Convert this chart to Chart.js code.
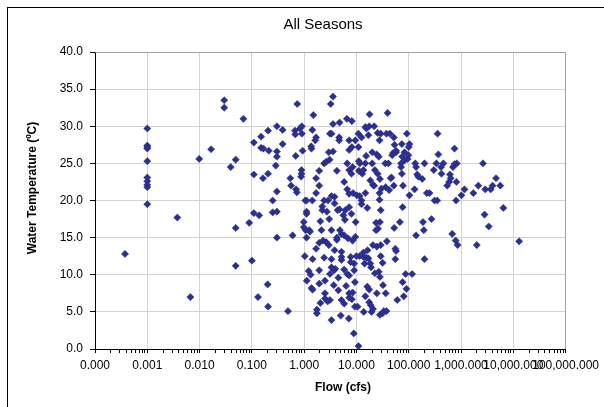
<!DOCTYPE html>
<html><head><meta charset="utf-8">
<script src="https://cdn.jsdelivr.net/npm/chart.js@4.4.1/dist/chart.umd.min.js"></script>
<style>
html,body{margin:0;padding:0;background:#fff;overflow:hidden;width:604px;height:407px}
#frame{position:absolute;left:7px;top:7px;width:700px;height:500px;border:1px solid #000;box-sizing:border-box}
#wrap{position:absolute;left:0;top:0;width:604px;height:407px}
</style></head><body>
<div id="frame"></div>
<div id="wrap"><canvas id="c" width="604" height="407"></canvas></div>
<script>
const chartTitle = 'All Seasons';
const xTitle = 'Flow (cfs)';
const yTitle = 'Water Temperature (ºC)';

const xTickValues = [0.0001, 0.001, 0.01, 0.1, 1, 10, 100, 1000, 10000, 100000];
const xTickLabels = ['0.000','0.001','0.010','0.100','1.000','10.000','100.000','1,000.000','10,000.000','100,000.000'];
const yTickValues = [0, 5, 10, 15, 20, 25, 30, 35, 40];

// Flow < 1 cfs
const lowFlow = [
 0.000375,0.001,0.001,0.001,0.001,0.001,0.001,0.001,0.001,0.001,
 0.001,0.00375,0.00667,0.00984,0.0166,0.0296,0.0296,0.0394,0.0491,0.0689,
 0.0491,0.0491,0.0889,0.1,0.109,0.109,0.109,0.138,0.131,0.150,
 0.150,0.166,0.163,0.204,0.204,0.211,0.200,0.204,0.250,0.250,
 0.301,0.301,0.301,0.286,0.301,0.301,0.301,0.388,0.388,0.491,
 0.543,0.562,0.601,0.666,0.677,0.689,0.701,0.725,0.737,0.830,
 0.903,0.903,0.888,0.888,0.873,0.934,0.983,0.983];
const lowTemp = [
 12.8,29.7,27.4,27.2,27.0,25.3,23.1,22.6,22.1,21.8,
 19.5,17.7,7.0,25.6,26.9,33.5,32.5,24.5,25.5,31.0,
 16.3,11.2,17.0,11.9,27.8,23.5,18.3,18.0,7.0,28.6,
 27.1,27.0,23.0,29.4,23.6,26.7,8.7,5.7,20.0,18.4,
 30.0,26.6,25.9,24.7,21.2,18.5,15.0,29.5,27.6,5.1,
 23.0,22.0,15.3,29.4,28.9,26.0,21.5,21.1,33.0,29.7,
 30.0,29.0,24.1,23.6,23.2,26.7,17.1,16.4];

// Flow 1 - 100 cfs
const midFlow = [
 1.03,1.05,1.11,1.11,1.11,1.07,1.11,1.12,1.25,1.29,
 1.22,1.33,1.43,1.38,1.36,1.43,1.50,1.45,1.38,1.45,
 1.63,1.69,1.69,1.69,1.69,1.75,1.75,1.94,1.94,2.04,
 2.14,1.94,1.94,1.94,2.04,2.22,2.22,2.29,2.41,2.41,
 2.41,2.50,2.50,2.50,2.63,2.63,2.72,2.86,2.81,2.96,
 3.06,3.01,2.96,3.11,3.11,3.11,3.33,3.22,3.56,3.56,
 3.56,3.33,3.33,3.33,3.33,3.33,3.81,3.81,3.81,3.68,
 3.68,3.94,4.22,4.22,4.22,4.36,4.51,4.51,4.75,4.67,
 4.67,4.75,4.83,5.00,5.17,5.17,5.17,5.17,5.17,5.62,
 5.82,5.82,5.82,5.82,6.02,6.12,6.33,6.55,6.66,6.66,
 6.66,6.89,7.13,7.25,7.25,7.25,7.25,7.25,7.25,7.25,
 7.25,7.76,7.76,8.02,8.02,8.16,8.16,8.16,8.44,8.44,
 8.44,8.59,8.89,9.04,9.04,9.35,9.35,9.51,9.51,9.67,
 10.0,10.2,10.5,10.9,10.9,10.9,11.1,11.1,11.5,11.5,
 11.6,12.5,12.5,12.5,12.9,13.6,13.6,13.6,13.8,14.3,
 14.8,14.8,14.8,14.8,15.3,15.5,15.5,16.1,16.1,16.3,
 16.9,16.9,17.5,17.5,17.5,17.8,18.4,18.4,18.7,19.0,
 19.4,20.0,20.0,20.7,20.7,20.7,21.8,21.8,22.5,22.5,
 23.7,23.7,24.5,24.5,24.5,25.4,25.4,25.8,26.7,26.7,
 27.6,27.6,27.6,28.1,28.1,28.1,28.1,29.1,29.1,29.1,
 29.1,30.1,31.6,31.6,32.2,33.3,35.6,36.2,36.2,37.5,
 37.5,38.1,39.4,40.8,42.2,43.6,45.1,46.7,48.3,50.0,
 51.7,53.5,51.7,52.6,55.3,57.2,55.3,57.2,57.2,60.2,
 67.7,71.3,71.3,73.8,73.8,75.0,76.3,76.3,77.6,80.2,
 83.0,83.0,87.3,90.3,91.9,95.0,98.3];
const midTemp = [
 12.5,20.0,20.0,18.5,18.2,16.0,15.0,9.2,16.0,15.8,
 10.5,10.0,20.0,27.0,27.3,29.5,31.5,12.1,8.2,8.0,
 28.1,28.5,23.0,21.0,13.5,5.3,4.8,24.0,22.0,17.2,
 16.0,14.3,10.6,8.8,6.2,19.2,18.7,14.6,20.0,25.0,
 12.3,9.2,7.5,6.8,25.2,14.4,18.5,20.0,6.4,26.5,
 25.5,17.5,14.0,10.1,6.6,29.0,29.0,33.0,34.0,30.3,
 26.6,20.6,16.0,12.1,11.0,3.9,20.5,19.6,13.3,10.6,
 8.6,10.8,24.0,14.7,15.0,18.7,7.9,9.6,30.5,28.5,
 28.1,18.8,16.0,4.5,15.5,13.1,12.4,12.0,6.6,18.0,
 22.5,15.3,10.7,6.1,17.4,18.7,8.5,31.0,25.0,21.5,
 10.1,14.9,4.1,28.1,26.8,24.1,20.9,19.1,9.9,7.5,
 6.9,11.7,12.4,18.2,23.6,30.7,27.2,6.7,7.6,14.6,
 24.5,21.0,2.1,11.5,10.6,9.0,5.7,15.1,28.1,17.1,
 12.5,20.7,5.7,0.4,29.0,27.2,25.3,24.0,20.6,12.5,
 25.0,28.5,20.0,19.5,23.6,24.1,13.0,12.4,5.0,11.5,
 29.9,25.0,21.0,7.1,26.0,29.7,12.3,19.0,8.4,13.3,
 28.8,12.2,8.0,6.3,30.0,31.6,22.7,11.5,5.9,11.0,
 5.0,25.0,26.5,22.1,14.0,5.4,30.0,22.0,10.2,24.1,
 17.0,16.0,26.2,13.8,7.5,29.1,23.6,16.2,25.9,10.4,
 21.0,20.1,28.1,22.9,17.1,9.7,4.6,29.0,14.0,12.5,
 18.7,21.6,11.6,4.8,8.6,5.1,25.0,21.8,7.5,5.1,
 29.0,14.5,31.8,25.0,21.4,29.0,23.0,23.1,26.1,26.4,
 28.5,27.5,22.0,16.3,13.5,13.2,12.1,26.5,26.7,6.6,
 17.1,24.5,25.0,23.6,27.6,25.9,19.1,9.0,22.0,7.1,
 25.4,26.5,10.1,8.1,29.0,25.6,26.1];

// Flow >= 100 cfs
const highFlow = [
 100,103,103,116,129,133,138,138,145,153,
 181,187,194,200,200,222,250,272,301,311,
 350,338,356,368,415,422,459,543,592,612,
 633,678,701,750,750,789,802,816,830,859,
 1017,1164,1718,2000,2140,2624,2811,2906,3384,3681,
 4006,4667,5623,6442,12900];
const highTemp = [
 27.2,27.6,20.7,10.1,21.5,25.0,24.5,15.3,23.5,23.2,
 22.9,17.1,16.0,25.0,12.1,21.0,21.0,17.5,24.1,20.0,
 20.0,25.0,29.0,26.2,24.5,23.6,25.0,22.0,22.5,23.5,
 23.0,15.5,24.5,27.0,24.9,14.6,20.0,22.5,25.0,14.0,
 20.7,21.5,21.0,14.0,22.0,25.0,18.1,21.5,16.5,21.5,
 22.0,23.0,22.0,19.0,14.5];

const flows = lowFlow.concat(midFlow, highFlow);
const temps = lowTemp.concat(midTemp, highTemp);
const points = flows.map((f, i) => ({x: f, y: temps[i]}));

const FONT = '"Liberation Sans", Arial, Helvetica, sans-serif';
Chart.defaults.font.family = FONT;
Chart.defaults.font.size = 12;
Chart.defaults.color = '#000';

const decorPlugin = {
  id: 'decor',
  beforeDatasetsDraw(chart) {
    const {ctx, chartArea: a} = chart;
    ctx.save();
    ctx.strokeStyle = '#a0a0a0';
    ctx.lineWidth = 1;
    ctx.beginPath();
    ctx.moveTo(Math.round(a.left) + 0.5, Math.round(a.top) + 0.5);
    ctx.lineTo(Math.round(a.right) - 0.5, Math.round(a.top) + 0.5);
    ctx.lineTo(Math.round(a.right) - 0.5, Math.round(a.bottom));
    ctx.stroke();
    ctx.restore();
  },
  afterDraw(chart) {
    const {ctx} = chart;
    ctx.save();
    ctx.fillStyle = '#000';
    ctx.textAlign = 'center';
    ctx.textBaseline = 'alphabetic';
    ctx.font = '15px ' + FONT;
    ctx.fillText(chartTitle, 323, 29);
    ctx.font = 'bold 12px ' + FONT;
    ctx.fillText(xTitle, 343, 391);
    ctx.translate(36, 188);
    ctx.rotate(-Math.PI / 2);
    ctx.fillText(yTitle, 0, 0);
    ctx.restore();
  }
};

new Chart(document.getElementById('c'), {
  type: 'scatter',
  data: {
    datasets: [{
      label: 'All Seasons',
      data: points,
      pointStyle: 'rectRot',
      pointRadius: 3.6,
      pointHoverRadius: 3.6,
      backgroundColor: '#2B2F8E',
      borderColor: '#2B2F8E',
      borderWidth: 0.5
    }]
  },
  options: {
    responsive: false,
    animation: false,
    devicePixelRatio: 1,
    layout: {padding: {left: 0, top: 52, right: 37, bottom: 0}},
    plugins: {legend: {display: false}, tooltip: {enabled: false}, title: {display: false}},
    scales: {
      x: {
        type: 'logarithmic',
        min: xTickValues[0],
        max: xTickValues[xTickValues.length - 1],
        afterFit(s) { s.height = 58; },
        afterBuildTicks(s) {
          const t = [];
          xTickValues.forEach((v, i) => {
            t.push({value: v, lbl: xTickLabels[i]});
            if (i < xTickValues.length - 1) {
              for (let m = 2; m <= 9; m++) t.push({value: v * m, lbl: ''});
            }
          });
          s.ticks = t;
        },
        ticks: {
          autoSkip: false, maxRotation: 0, minRotation: 0, padding: 5,
          font: {size: 12},
          callback: (v, i, ticks) => ticks[i].lbl
        },
        grid: {
          color: c => (c.tick && c.tick.lbl) ? '#d4d4d4' : 'rgba(0,0,0,0)',
          tickColor: '#000',
          tickLength: 4,
          drawTicks: true
        },
        border: {color: '#000', width: 1}
      },
      y: {
        min: 0, max: 40,
        afterFit(s) { s.width = 95; },
        afterBuildTicks(s) { s.ticks = yTickValues.map(v => ({value: v})); },
        ticks: {padding: 7, font: {size: 12}, callback: v => Number(v).toFixed(1)},
        grid: {color: '#d4d4d4', tickColor: '#000', tickLength: 5},
        border: {color: '#000', width: 1}
      }
    }
  },
  plugins: [decorPlugin]
});
</script>
</body></html>
